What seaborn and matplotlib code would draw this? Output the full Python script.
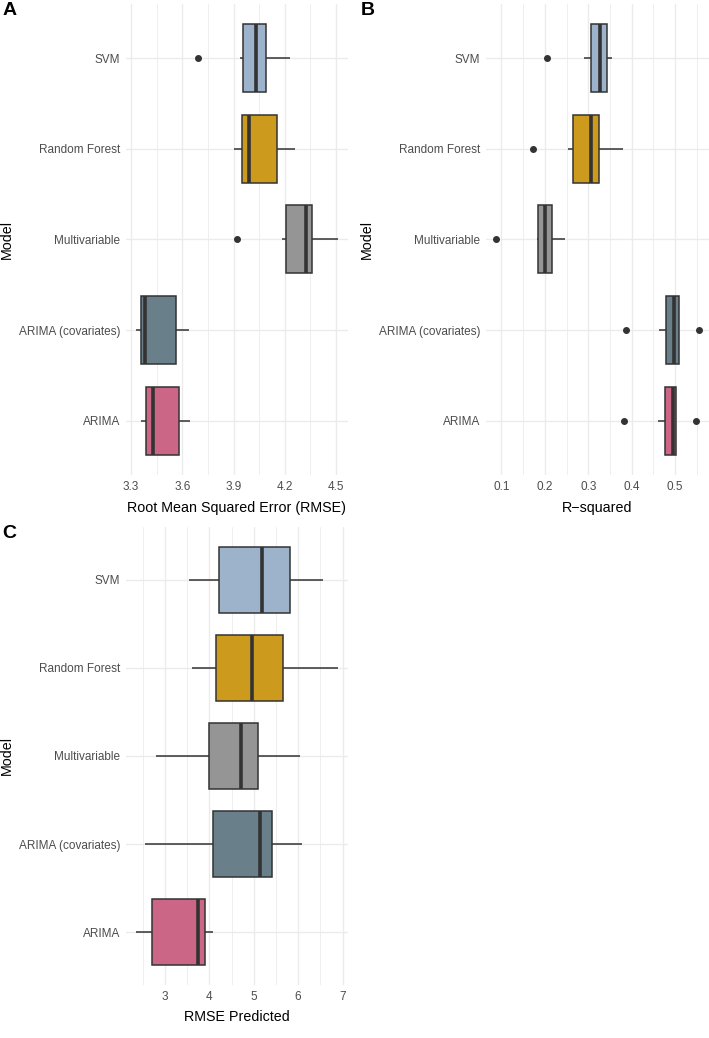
import numpy as np
import pandas as pd
import seaborn as sns
from matplotlib import pyplot as plt
from matplotlib.ticker import MultipleLocator

sns.set_theme(style="white")
plt.rcParams['font.family'] = ['Liberation Sans', 'DejaVu Sans']

models = ['SVM', 'Random Forest', 'Multivariable', 'ARIMA (covariates)', 'ARIMA']
colors = ['#9DB3CC', '#CC9A1D', '#959595', '#69808A', '#CB6687']

# per-fold scores
rmse_svm = [3.692, 3.937, 3.957, 4.00, 4.034, 4.06, 4.091, 4.15, 4.228]
rmse_rf = [3.902, 3.93, 3.949, 3.97, 3.990, 4.08, 4.152, 4.20, 4.259]
rmse_multi = [3.918, 4.183, 4.206, 4.27, 4.327, 4.34, 4.360, 4.43, 4.511]
rmse_arima_cov = [3.329, 3.34, 3.358, 3.37, 3.380, 3.47, 3.561, 3.60, 3.637]
rmse_arima = [3.356, 3.37, 3.386, 3.40, 3.427, 3.50, 3.582, 3.61, 3.643]

r2_svm = [0.204, 0.291, 0.306, 0.318, 0.328, 0.335, 0.342, 0.348, 0.355]
r2_rf = [0.172, 0.253, 0.265, 0.29, 0.307, 0.315, 0.324, 0.35, 0.379]
r2_multi = [0.088, 0.183, 0.1845, 0.193, 0.201, 0.209, 0.217, 0.232, 0.247]
r2_arima_cov = [0.387, 0.4625, 0.479, 0.49, 0.498, 0.503, 0.508, 0.508, 0.556]
r2_arima = [0.382, 0.461, 0.476, 0.486, 0.496, 0.499, 0.501, 0.501, 0.549]

pred_svm = [3.547, 3.9, 4.22, 4.7, 5.19, 5.5, 5.825, 6.2, 6.55]
pred_rf = [3.605, 3.9, 4.143, 4.6, 4.95, 5.3, 5.66, 6.3, 6.895]
pred_multi = [2.79, 3.5, 3.995, 4.4, 4.72, 4.9, 5.09, 5.6, 6.04]
pred_arima_cov = [2.55, 3.4, 4.076, 4.6, 5.14, 5.3, 5.42, 5.8, 6.08]
pred_arima = [2.35, 2.5, 2.71, 3.2, 3.75, 3.82, 3.90, 4.0, 4.085]


def to_df(*series):
    rows = []
    for name, vals in zip(models, series):
        for v in vals:
            rows.append((name, v))
    return pd.DataFrame(rows, columns=['Model', 'value'])


df_rmse = to_df(rmse_svm, rmse_rf, rmse_multi, rmse_arima_cov, rmse_arima)
df_r2 = to_df(r2_svm, r2_rf, r2_multi, r2_arima_cov, r2_arima)
df_pred = to_df(pred_svm, pred_rf, pred_multi, pred_arima_cov, pred_arima)

fig = plt.figure(figsize=(7.09, 10.38), dpi=100)
ax_a = fig.add_axes([0.1777, 0.5424, 0.3131, 0.4538])
ax_b = fig.add_axes([0.6855, 0.5424, 0.3145, 0.4538])
ax_c = fig.add_axes([0.1777, 0.0511, 0.3131, 0.4412])

panels = [
    (ax_a, df_rmse, 'Root Mean Squared Error (RMSE)', 0.3, (3.270, 4.570), 'A'),
    (ax_b, df_r2, 'R\u2212squared', 0.1, (0.0646, 0.578), 'B'),
    (ax_c, df_pred, 'RMSE Predicted', 1.0, (2.123, 7.122), 'C'),
]

for ax, df, xlabel, step, xlim, tag in panels:
    sns.boxplot(data=df, x='value', y='Model', order=models, hue='Model',
                hue_order=models, palette=colors, saturation=1, legend=False,
                ax=ax, width=0.75, linecolor='#333333', linewidth=1.1,
                whis=1.5, showcaps=False, fliersize=4,
                flierprops={'marker': 'o', 'markerfacecolor': '#333333',
                            'markeredgecolor': '#333333'},
                medianprops={'linewidth': 2.6, 'color': '#333333'})
    ax.set_xlim(*xlim)
    ax.set_ylim(4.6, -0.6)
    ax.xaxis.set_major_locator(MultipleLocator(step))
    ax.xaxis.set_minor_locator(MultipleLocator(step / 2))
    if step < 1:
        ax.xaxis.set_major_formatter(plt.FuncFormatter(lambda v, p: f'{v:.1f}'))
    ax.grid(True, which='major', axis='both', color='#EBEBEB', linewidth=1.0)
    ax.grid(True, which='minor', axis='x', color='#EBEBEB', linewidth=0.6)
    ax.set_axisbelow(True)
    for s in ax.spines.values():
        s.set_visible(False)
    ax.tick_params(axis='both', which='both', length=0, labelsize=8.5,
                   labelcolor='#4D4D4D', pad=4)
    ax.set_xlabel(xlabel, fontsize=10.3, color='black')
    ax.set_ylabel('Model', fontsize=10.3, color='black')
    ax.xaxis.set_label_coords(0.5, -0.055)
    ax.yaxis.set_label_coords(-0.505, 0.5)

# panel tags
for x, y, tag in [(0.003, 0.990, 'A'), (0.509, 0.990, 'B'), (0.003, 0.486, 'C')]:
    fig.text(x, y, tag, fontsize=14, fontweight='bold', color='black',
             va='center', ha='left')

fig.savefig('out.png', dpi=100)
